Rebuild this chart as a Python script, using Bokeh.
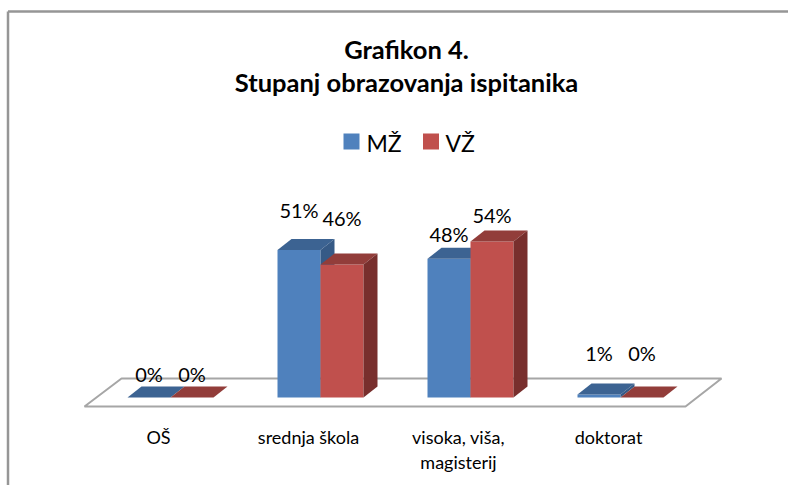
from bokeh.plotting import figure
from bokeh.models import Range1d
from bokeh.core.properties import value
from bokeh.embed import file_html
from bokeh.resources import INLINE

# ---- data ----
categories = ["OŠ", "srednja škola", "visoka, viša,\nmagisterij", "doktorat"]
series_names = ["MŽ", "VŽ"]
mz = [0, 51, 48, 1]
vz = [0, 46, 54, 0]
title_lines = ["Grafikon 4.", "Stupanj obrazovanja ispitanika"]

# ---- layout (page-pixel calibration) ----
W, H = 788, 485
PX_U = 150.0        # pixels per category
X0 = 170.0          # page x of first category centre (front)
PX_V = 2.89         # pixels per percent
Y0 = 397.0          # page y of the value 0 (front base)

def U(px):
    return (px - X0) / PX_U

def V(py):
    return (Y0 - py) / PX_V

FONT = "Lato"
blue = {"front": "#4F81BD", "top": "#3C6392", "side": "#365A86"}
red = {"front": "#C0504D", "top": "#923D3A", "side": "#782F2D"}

p = figure(width=W, height=H, output_backend="svg", toolbar_location=None,
           x_range=Range1d(U(0), U(W)), y_range=Range1d(V(H), V(0)),
           min_border=0, outline_line_color=None)
p.axis.visible = False
p.grid.visible = False
p.background_fill_color = "white"
p.border_fill_color = "white"

# chart border (top and left visible)
p.line([U(7.5), U(W)], [V(11), V(11)], line_color="#969696", line_width=2.5)
p.line([U(7.5), U(7.5)], [V(11), V(H)], line_color="#969696", line_width=2.5)

# floor
fx = [U(84), U(685), U(721), U(121)]
fy = [V(406), V(406), V(378), V(378)]
p.patch(fx, fy, fill_color="white", line_color="#A6A6A6", line_width=2)

bw = 43 / PX_U
ddx = 14 / PX_U
ddy = 11 / PX_V

faces = {"xs": [], "ys": [], "c": []}
def bar(x0, val, col):
    x1 = x0 + bw
    faces["xs"] += [[x0, x1, x1, x0],
                    [x0, x1, x1 + ddx, x0 + ddx],
                    [x1, x1 + ddx, x1 + ddx, x1]]
    faces["ys"] += [[0, 0, val, val],
                    [val, val, val + ddy, val + ddy],
                    [0, ddy, val + ddy, val]]
    faces["c"] += [col["front"], col["top"], col["side"]]

for i in range(len(categories)):
    bar(i - bw, mz[i], blue)
    bar(i, vz[i], red)

p.patches(faces["xs"], faces["ys"], fill_color=faces["c"], line_color=None)

# data labels
lift_mz = [24, 40, 25, 42]
lift_vz = [24, 47, 26, 45]
lx, ly, lt = [], [], []
for i in range(len(categories)):
    lx += [i - bw / 2, i + bw / 2]
    ly += [mz[i] + lift_mz[i] / PX_V, vz[i] + lift_vz[i] / PX_V]
    lt += [f"{mz[i]}%", f"{vz[i]}%"]
p.text(lx, ly, text=lt, text_align="center", text_baseline="middle",
       text_font=value(FONT), text_font_size="20px", text_color="black")

# category labels
cx, cy, ct = [], [], []
for i, c in enumerate(categories):
    for k, line in enumerate(c.split("\n")):
        cx.append(i - 12 / PX_U)
        cy.append(V(436 + 25 * k))
        ct.append(line)
p.text(cx, cy, text=ct, text_align="center", text_baseline="middle",
       text_font=value(FONT), text_font_size="18px", text_color="black")

# title
p.text([U(406), U(406)], [V(48), V(81)], text=title_lines, text_align="center",
       text_baseline="middle", text_font=value(FONT), text_font_size="25.5px",
       text_font_style="bold", text_color="black")

# legend
p.rect([U(351), U(430.5)], [V(141), V(141)], width=16 / PX_U, height=16 / PX_V,
       fill_color=[blue["front"], red["front"]], line_color=None)
p.text([U(366), U(445)], [V(142), V(142)], text=series_names, text_align="left",
       text_baseline="middle", text_font=value(FONT), text_font_size="23px",
       text_color="black")

open("out.html", "w").write(file_html(p, INLINE))
